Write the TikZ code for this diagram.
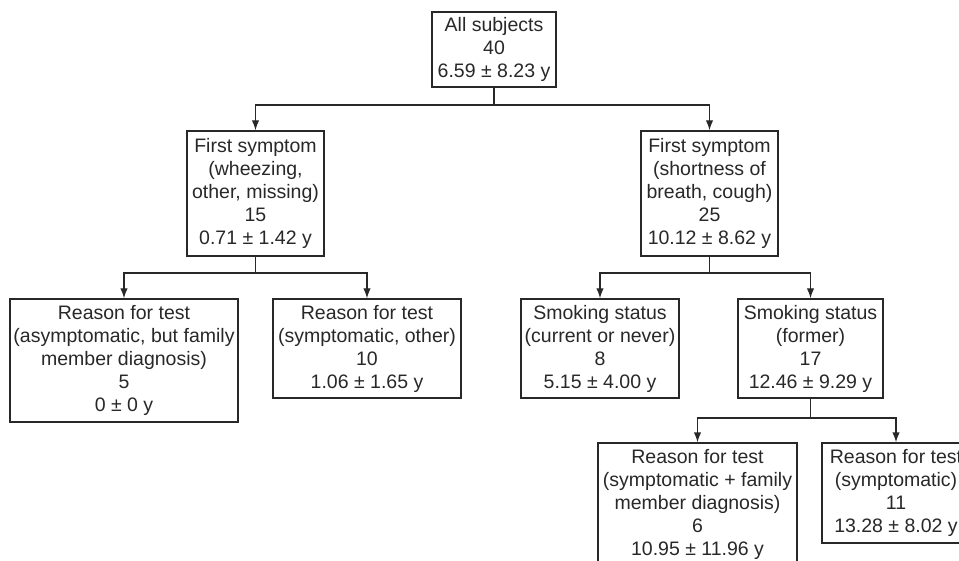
\documentclass[tikz,border=0pt]{standalone}
\usepackage{fontspec}
\setmainfont{Liberation Sans}
\usetikzlibrary{arrows.meta}
\definecolor{ink}{RGB}{40,40,40}
\tikzset{
  box/.style={draw=ink, line width=1.4pt, text=ink, align=center, inner sep=0pt,
    font=\fontsize{19.5}{23}\selectfont},
  link/.style={draw=ink, line width=1.4pt},
  arr/.style={link, -{Latex[length=10pt,width=7.5pt]}}
}
\begin{document}
\begin{tikzpicture}[x=1pt,y=-1pt]
\useasboundingbox (0,0) rectangle (959,561);
\clip (0,0) rectangle (959,561);
\fill[white] (0,0) rectangle (959,561);
\node[box, minimum width=124pt, minimum height=75pt] (root) at (494,49.5) {All subjects\\40\\6.59 ± 8.23 y};
\node[box, minimum width=137pt, minimum height=125pt] (c1) at (255.5,193.5) {First symptom\\(wheezing,\\other, missing)\\15\\0.71 ± 1.42 y};
\node[box, minimum width=137pt, minimum height=125pt] (c2) at (709.5,193.5) {First symptom\\(shortness of\\breath, cough)\\25\\10.12 ± 8.62 y};
\node[box, minimum width=228pt, minimum height=123pt] (ll) at (124,360.5) {Reason for test\\(asymptomatic, but family\\member diagnosis)\\5\\0 ± 0 y};
\node[box, minimum width=188pt, minimum height=99pt] (lr) at (367,348.5) {Reason for test\\(symptomatic, other)\\10\\1.06 ± 1.65 y};
\node[box, minimum width=158pt, minimum height=99pt] (sc) at (600,348.5) {Smoking status\\(current or never)\\8\\5.15 ± 4.00 y};
\node[box, minimum width=145pt, minimum height=99pt] (sf) at (810.5,348.5) {Smoking status\\(former)\\17\\12.46 ± 9.29 y};
\node[box, minimum width=199pt, minimum height=123pt] (bl) at (697.5,504.5) {Reason for test\\(symptomatic + family\\member diagnosis)\\6\\10.95 ± 11.96 y};
\node[box, minimum width=148pt, minimum height=100pt] (br) at (896,493) {Reason for test\\(symptomatic)\\11\\13.28 ± 8.02 y};
\coordinate (j0) at (494,105);
\coordinate (j1) at (255.5,273);
\coordinate (j2) at (709.5,273);
\coordinate (j3) at (810.5,418);
\draw[link] (root.south) -- (j0);
\draw[arr] (j0) -| (c1.north);
\draw[arr] (j0) -| (c2.north);
\draw[link] (c1.south) -- (j1);
\draw[arr] (j1) -| (ll.north);
\draw[arr] (j1) -| (lr.north);
\draw[link] (c2.south) -- (j2);
\draw[arr] (j2) -| (sc.north);
\draw[arr] (j2) -| (sf.north);
\draw[link] (sf.south) -- (j3);
\draw[arr] (j3) -| (bl.north);
\draw[arr] (j3) -| (br.north);
\end{tikzpicture}
\end{document}
